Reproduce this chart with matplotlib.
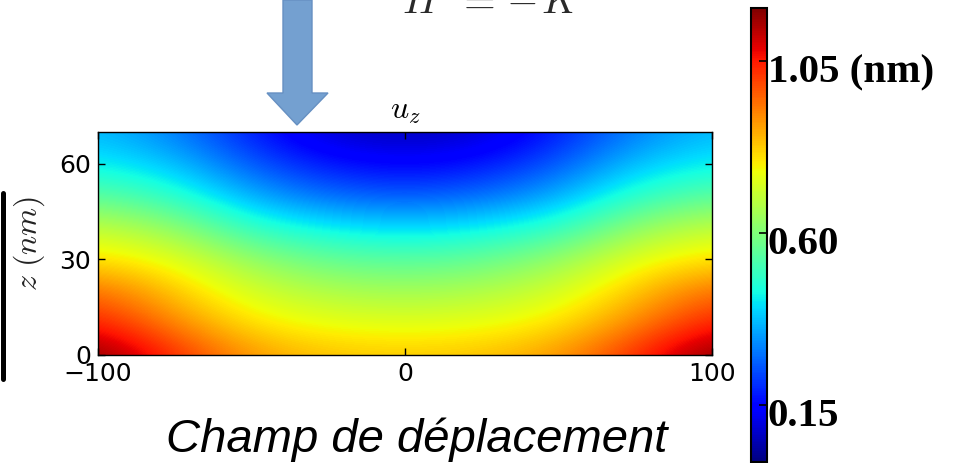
import numpy as np
import matplotlib
matplotlib.use("Agg")
import matplotlib.pyplot as plt
from matplotlib.patches import Polygon
from matplotlib.lines import Line2D
from matplotlib.cm import ScalarMappable
from matplotlib.colors import Normalize
from matplotlib.transforms import ScaledTranslation

plt.rcParams["mathtext.fontset"] = "cm"

# Vertical displacement u_z (nm) sampled on a coarse (z, x) grid
x_nm = [-100, -75, -50, -25, 0, 25, 50, 75, 100]
z_nm = [0, 10, 20, 30, 40, 50, 60, 70]
uz_z0 = [1.19, 1.03, 0.89, 0.84, 0.83, 0.84, 0.89, 1.03, 1.19]
uz_z10 = [1.05, 0.91, 0.79, 0.75, 0.74, 0.75, 0.79, 0.91, 1.05]
uz_z20 = [0.95, 0.83, 0.72, 0.67, 0.65, 0.67, 0.72, 0.83, 0.95]
uz_z30 = [0.80, 0.75, 0.63, 0.56, 0.54, 0.56, 0.63, 0.75, 0.80]
uz_z40 = [0.70, 0.63, 0.48, 0.43, 0.40, 0.43, 0.48, 0.63, 0.70]
uz_z50 = [0.55, 0.48, 0.35, 0.27, 0.25, 0.27, 0.35, 0.48, 0.55]
uz_z60 = [0.43, 0.38, 0.25, 0.17, 0.14, 0.17, 0.25, 0.38, 0.43]
uz_z70 = [0.37, 0.30, 0.18, 0.08, 0.06, 0.08, 0.18, 0.30, 0.37]

x_ticks = [-100, 0, 100]
z_ticks = [0, 30, 60]
cbar_ticks = [0.15, 0.60, 1.05]
cbar_labels = ["0.15", "0.60", "1.05 (nm)"]
uz_min, uz_max = 0.0, 1.19

W, H = 959, 463
fig = plt.figure(figsize=(W / 100, H / 100), dpi=100)
fig.patch.set_facecolor("white")


def fx(px):
    return px / W


def fy(py):
    return 1 - py / H


# Main displacement map (grid values sit at cell centres of the image)
ax = fig.add_axes([fx(98), fy(355), fx(712) - fx(98), fy(132) - fy(355)])
U = np.array([uz_z0, uz_z10, uz_z20, uz_z30, uz_z40, uz_z50, uz_z60, uz_z70])
dx = (x_nm[1] - x_nm[0]) / 2
dz = (z_nm[1] - z_nm[0]) / 2
ax.imshow(U, origin="lower", cmap="jet", vmin=uz_min, vmax=uz_max,
          interpolation="bicubic", interpolation_stage="data", aspect="auto",
          extent=[x_nm[0] - dx, x_nm[-1] + dx, z_nm[0] - dz, z_nm[-1] + dz])
ax.set_xlim(-100, 100)
ax.set_ylim(0, 70)
ax.set_xticks(x_ticks)
ax.set_yticks(z_ticks)
ax.set_xticklabels(["\u2212100", "0", "100"])
ax.tick_params(direction="in", length=5, width=1, top=True, right=True,
               labelsize=18, pad=5)
for s in ax.spines.values():
    s.set_linewidth(1.0)
    s.set_color("black")
ax.set_title(r"$u_z$", fontsize=23, pad=10)
ax.set_ylabel(r"$z\ (nm)$", fontsize=23, color="#222222")
ax.yaxis.set_label_coords(-0.083, 0.5)

# Colour scale
cax = fig.add_axes([fx(751), fy(462), fx(767) - fx(751), fy(8) - fy(462)])
sm = ScalarMappable(norm=Normalize(uz_min, uz_max), cmap="jet")
cb = fig.colorbar(sm, cax=cax, ticks=cbar_ticks)
cb.set_ticklabels([])
cb.outline.set_linewidth(1.5)
cax.tick_params(direction="in", length=6, width=1.2, pad=1)
lab_tr = cax.get_yaxis_transform() + ScaledTranslation(0, -0.21, fig.dpi_scale_trans)
for val, txt in zip(cbar_ticks, cbar_labels):
    cax.text(1.06, val, txt, transform=lab_tr, ha="left", va="baseline",
             family="Liberation Serif", fontweight="bold", fontsize=29.5)

# Loading arrow
arrow_pts = [(283, 0), (312, 0), (312, 93), (328, 93), (297, 125),
             (267, 93), (283, 93)]
arrow = Polygon([(fx(a), fy(b)) for a, b in arrow_pts], closed=True,
                transform=fig.transFigure, facecolor="#74A0D0",
                edgecolor="#6690C2", linewidth=1.0)
fig.patches.append(arrow)

# Boundary condition H = -K (each symbol placed along the baseline)
for px, sym in [(402, r"$H$"), (456, r"$=$"), (506, r"$-$"), (541, r"$K$")]:
    fig.text(fx(px), fy(12.7), sym, fontsize=29.5, color="#2a2a2a",
             ha="left", va="baseline")

# Left bracket bar
fig.add_artist(Line2D([fx(2.5), fx(2.5)], [fy(193), fy(379)],
                      transform=fig.transFigure, color="black",
                      linewidth=3.6, solid_capstyle="round"))

# Caption
fig.text(fx(417), fy(452), "Champ de d\u00e9placement", fontsize=34,
         family="Liberation Sans", style="italic", ha="center",
         va="baseline", color="black")

fig.savefig("out.png", dpi=100, facecolor="white")
